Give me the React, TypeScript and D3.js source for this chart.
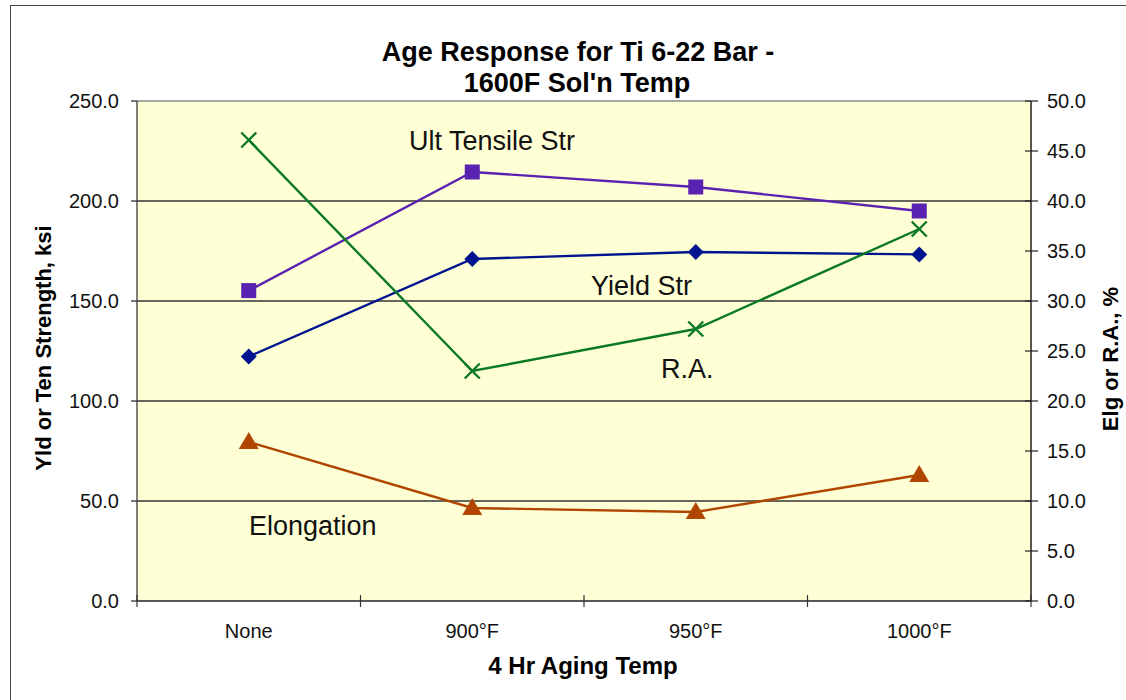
import React from "react";
import * as d3 from "d3";

const categories = ["None", "900°F", "950°F", "1000°F"];
const ultTensile = [155.2, 214.5, 207.0, 195.0];
const yieldStr = [122.2, 171.0, 174.5, 173.3];
const reductionArea = [46.1, 23.0, 27.2, 37.2];
const elongation = [15.9, 9.3, 8.9, 12.6];
const leftTicks = [0, 50, 100, 150, 200, 250];
const rightTicks = [0, 5, 10, 15, 20, 25, 30, 35, 40, 45, 50];

const W = 1126;
const H = 700;
const plot = { left: 137, right: 1031, top: 101, bottom: 601 };
const FONT = "Arial, 'Liberation Sans', Helvetica, sans-serif";

export default function App() {
  const x = d3
    .scaleBand<string>()
    .domain(categories)
    .range([plot.left, plot.right])
    .paddingInner(0)
    .paddingOuter(0);
  const cx = (c: string) => (x(c) as number) + x.bandwidth() / 2;
  const yL = d3.scaleLinear().domain([0, 250]).range([plot.bottom, plot.top]);
  const yR = d3.scaleLinear().domain([0, 50]).range([plot.bottom, plot.top]);

  const lineL = d3
    .line<number>()
    .x((_, i) => cx(categories[i]))
    .y((d) => yL(d));
  const lineR = d3
    .line<number>()
    .x((_, i) => cx(categories[i]))
    .y((d) => yR(d));

  const boundaries = [...categories.map((c) => x(c) as number), plot.right];

  const cUTS = "#5a22b0";
  const cYS = "#001490";
  const cRA = "#0b7a22";
  const cEL = "#b04600";

  const sq = 15;
  const dm = 8;
  const xs = 7.5;

  return (
    <svg
      width={W}
      height={H}
      style={{ position: "absolute", left: 0, top: 0, background: "#fff" }}
      fontFamily={FONT}
    >
      <rect x={10.5} y={5.5} width={W + 20} height={H + 20} fill="#fff" stroke="#444" strokeWidth={1} />
      {/* plot area */}
      <rect
        x={plot.left}
        y={plot.top}
        width={plot.right - plot.left}
        height={plot.bottom - plot.top}
        fill="#ffffd6"
      />
      {/* gridlines */}
      {leftTicks
        .filter((t) => t > 0 && t < 250)
        .map((t) => (
          <line
            key={"g" + t}
            x1={plot.left}
            x2={plot.right}
            y1={yL(t)}
            y2={yL(t)}
            stroke="#333"
            strokeWidth={1.3}
          />
        ))}
      <line x1={plot.left} x2={plot.right} y1={plot.top} y2={plot.top} stroke="#8a8a8a" strokeWidth={1.5} />
      {/* axes */}
      <line x1={plot.left} x2={plot.left} y1={plot.top} y2={plot.bottom} stroke="#555" strokeWidth={1.5} />
      <line x1={plot.right} x2={plot.right} y1={plot.top} y2={plot.bottom} stroke="#222" strokeWidth={1.5} />
      <line x1={plot.left} x2={plot.right} y1={plot.bottom} y2={plot.bottom} stroke="#222" strokeWidth={1.5} />
      {/* left ticks */}
      {leftTicks.map((t) => (
        <g key={"l" + t}>
          <line x1={plot.left - 6} x2={plot.left} y1={yL(t)} y2={yL(t)} stroke="#222" strokeWidth={1.2} />
          <text x={119} y={yL(t)} dy="0.35em" textAnchor="end" fontSize={20} fill="#111">
            {t.toFixed(1)}
          </text>
        </g>
      ))}
      {/* right ticks */}
      {rightTicks.map((t) => (
        <g key={"r" + t}>
          <line x1={plot.right - 6} x2={plot.right + 7} y1={yR(t)} y2={yR(t)} stroke="#222" strokeWidth={1.2} />
          <text x={1047} y={yR(t)} dy="0.35em" textAnchor="start" fontSize={20} fill="#111">
            {t.toFixed(1)}
          </text>
        </g>
      ))}
      {/* x ticks */}
      {boundaries.map((b, i) => (
        <line key={"xt" + i} x1={b} x2={b} y1={plot.bottom - 6} y2={plot.bottom + 6} stroke="#333" strokeWidth={1.2} />
      ))}
      {categories.map((c) => (
        <text key={"xl" + c} x={cx(c)} y={638} textAnchor="middle" fontSize={20} fill="#111">
          {c}
        </text>
      ))}
      {/* titles */}
      <text x={578} y={61} textAnchor="middle" fontSize={27} fontWeight="bold" fill="#000">
        Age Response for Ti 6-22 Bar -
      </text>
      <text x={577} y={92} textAnchor="middle" fontSize={27} fontWeight="bold" fill="#000">
        1600F Sol'n Temp
      </text>
      <text x={583} y={674} textAnchor="middle" fontSize={24} fontWeight="bold" fill="#000">
        4 Hr Aging Temp
      </text>
      <text
        transform={`translate(51,${(plot.top + plot.bottom) / 2 - 3}) rotate(-90)`}
        textAnchor="middle"
        fontSize={22}
        fontWeight="bold"
        fill="#000"
      >
        Yld or Ten Strength, ksi
      </text>
      <text
        transform={`translate(1118,${(plot.top + plot.bottom) / 2 + 8}) rotate(-90)`}
        textAnchor="middle"
        fontSize={22}
        fontWeight="bold"
        fill="#000"
      >
        Elg or R.A., %
      </text>
      {/* series lines */}
      <path d={lineL(ultTensile) || ""} fill="none" stroke={cUTS} strokeWidth={2.4} />
      <path d={lineL(yieldStr) || ""} fill="none" stroke={cYS} strokeWidth={2.4} />
      <path d={lineR(reductionArea) || ""} fill="none" stroke={cRA} strokeWidth={2.4} />
      <path d={lineR(elongation) || ""} fill="none" stroke={cEL} strokeWidth={2.4} />
      {/* markers */}
      {ultTensile.map((v, i) => (
        <rect
          key={"u" + i}
          x={cx(categories[i]) - sq / 2}
          y={yL(v) - sq / 2}
          width={sq}
          height={sq}
          fill={cUTS}
        />
      ))}
      {yieldStr.map((v, i) => {
        const px = cx(categories[i]);
        const py = yL(v);
        return (
          <path
            key={"y" + i}
            d={`M${px},${py - dm}L${px + dm},${py}L${px},${py + dm}L${px - dm},${py}Z`}
            fill={cYS}
          />
        );
      })}
      {reductionArea.map((v, i) => {
        const px = cx(categories[i]);
        const py = yR(v);
        return (
          <path
            key={"ra" + i}
            d={`M${px - xs},${py - xs}L${px + xs},${py + xs}M${px - xs},${py + xs}L${px + xs},${py - xs}`}
            stroke={cRA}
            strokeWidth={2.4}
            fill="none"
          />
        );
      })}
      {elongation.map((v, i) => {
        const px = cx(categories[i]);
        const py = yR(v);
        return (
          <path
            key={"e" + i}
            d={`M${px},${py - 10}L${px + 10},${py + 7}L${px - 10},${py + 7}Z`}
            fill={cEL}
          />
        );
      })}
      {/* series labels */}
      <text x={409} y={150} fontSize={27} fill="#111">Ult Tensile Str</text>
      <text x={591} y={295} fontSize={27} fill="#111">Yield Str</text>
      <text x={661} y={378} fontSize={27} fill="#111">R.A.</text>
      <text x={249} y={535} fontSize={27} fill="#111">Elongation</text>
    </svg>
  );
}
